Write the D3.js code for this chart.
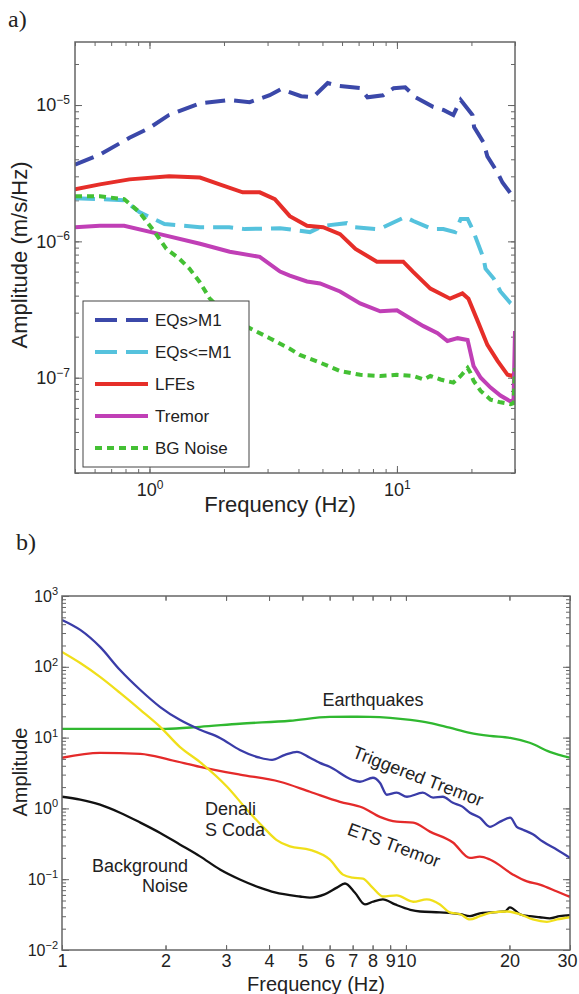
<!DOCTYPE html>
<meta charset="utf-8">
<style>
body { margin: 0; background: #fff; }
text { font-family: "Liberation Sans", Arial, sans-serif; fill: #222; }
.frame { fill: none; stroke: #666; stroke-width: 1.5px; }
.axis path { display: none; }
.axis line { stroke: #666; stroke-width: 1px; }
.tag { font-family: "Liberation Serif", "Times New Roman", serif; font-size: 24px; }
.line { fill: none; }
</style>
<body>
<script src="https://d3js.org/d3.v7.min.js"></script>
<script>

// ---- panel a: [frequency (Hz), amplitude (m/s/Hz)]
var eqsLarge = [[0.5,3.66e-6],[0.63,4.33e-6],[0.83,5.75e-6],[1.0,6.8e-6],[1.2,8.46e-6],[1.6,1.03e-5],
  [2.1,1.09e-5],[2.54,1.05e-5],[3.06,1.18e-5],[3.4,1.31e-5],[4.1,1.16e-5],[4.58,1.14e-5],[5.25,1.45e-5],
  [5.7,1.39e-5],[7.1,1.33e-5],[7.6,1.14e-5],[8.8,1.18e-5],[9.7,1.33e-5],[10.8,1.35e-5],[11.9,1.14e-5],
  [14.0,9.7e-6],[15.4,9.2e-6],[16.9,8.46e-6],[18.1,1.09e-5],[20.2,8.46e-6],[20.5,6.9e-6],[22.4,5.3e-6],
  [23.2,4.2e-6],[25.5,3.2e-6],[26.7,2.7e-6],[30,2.04e-6]];
var eqsSmall = [[0.5,2.07e-6],[0.63,2.04e-6],[0.79,2.0e-6],[0.91,1.64e-6],[1.15,1.34e-6],[1.6,1.27e-6],
  [2.1,1.27e-6],[2.43,1.23e-6],[3.37,1.25e-6],[4.45,1.17e-6],[5.03,1.3e-6],[6.27,1.36e-6],[6.75,1.27e-6],
  [8.3,1.23e-6],[8.8,1.27e-6],[10.8,1.51e-6],[11.65,1.41e-6],[13.9,1.23e-6],[15.4,1.23e-6],[17.2,1.17e-6],
  [18.1,1.46e-6],[19.3,1.46e-6],[20.2,1.23e-6],[22.4,7.5e-7],[22.8,6.3e-7],[24.6,5.34e-7],[26.2,4.29e-7],
  [28.8,3.51e-7],[30,3.34e-7]];
var lfes = [[0.5,2.41e-6],[0.63,2.62e-6],[0.83,2.85e-6],[1.2,3.0e-6],[1.6,2.94e-6],[1.92,2.62e-6],
  [2.38,2.29e-6],[2.79,2.29e-6],[3.21,2.04e-6],[3.69,1.53e-6],[4.33,1.3e-6],[5.03,1.27e-6],[5.89,1.13e-6],
  [6.8,8.8e-7],[8.3,7.1e-7],[10.6,7.1e-7],[11.6,6.0e-7],[13.65,4.5e-7],[16.4,3.8e-7],[18.4,4.15e-7],
  [19.45,3.8e-7],[21.2,2.6e-7],[23.2,1.74e-7],[25.5,1.33e-7],[28.0,1.05e-7],[29.3,1.03e-7],[30,1.1e-7]];
var tremorA = [[0.5,1.27e-6],[0.63,1.3e-6],[0.79,1.3e-6],[1.1,1.13e-6],[1.6,9.6e-7],[2.11,8.4e-7],
  [2.79,7.7e-7],[3.37,6.0e-7],[3.69,5.6e-7],[4.33,5.08e-7],[4.89,4.91e-7],[5.89,4.29e-7],[7.1,3.51e-7],
  [8.56,3.07e-7],[10.0,3.12e-7],[11.3,2.73e-7],[12.8,2.39e-7],[14.6,2.12e-7],[16.0,1.86e-7],[17.6,1.95e-7],
  [19.3,1.89e-7],[20.4,1.22e-7],[21.8,1.0e-7],[23.9,8.46e-8],[26.2,7.4e-8],[28.8,6.69e-8],[29.6,6.8e-8],
  [30,2.2e-7]];
var bgNoiseA = [[0.5,2.14e-6],[0.63,2.14e-6],[0.79,2.04e-6],[0.91,1.64e-6],[1.05,1.17e-6],[1.17,8.8e-7],
  [1.32,7.46e-7],[1.45,6.31e-7],[1.6,5.0e-7],[1.75,3.82e-7],[2.11,2.73e-7],[2.54,2.31e-7],[3.06,1.95e-7],
  [3.69,1.63e-7],[4.05,1.47e-7],[4.89,1.29e-7],[5.89,1.12e-7],[7.1,1.05e-7],[8.56,1.03e-7],[10.0,1.05e-7],
  [11.65,1.03e-7],[12.8,9.7e-8],[13.65,1.03e-7],[15.0,9.7e-8],[16.9,9.2e-8],[18.1,1.03e-7],[19.3,1.18e-7],
  [19.8,1.09e-7],[20.4,9.5e-8],[21.8,8.0e-8],[23.9,6.9e-8],[26.2,6.6e-8],[28.8,6.4e-8],[29.6,6.5e-8],
  [30,1.18e-7]];

var legendLabelsA = ["EQs>M1", "EQs<=M1", "LFEs", "Tremor", "BG Noise"];
var xTicksA = [1, 10];
var yTicksA = [1e-7, 1e-6, 1e-5];

// ---- panel b: [frequency (Hz), amplitude]
var earthquakes = [[1,13.3],[1.29,13.3],[2.0,13.3],[2.52,14.2],[3.29,15.7],[4.6,17.3],[6.0,19.6],
  [6.9,19.7],[7.86,19.6],[9.0,19.0],[10.3,17.8],[11.7,16.2],[13.4,13.8],[15.35,11.7],[17.55,10.6],
  [20.1,9.9],[22.9,8.45],[26.2,6.3],[30,5.2]];
var triggeredTremor = [[1,459],[1.13,332],[1.29,191],[1.475,90],[1.69,47],[1.93,27],[2.2,17.8],
  [2.52,12.9],[2.88,9.9],[3.29,6.7],[3.76,5.2],[4.08,4.86],[4.45,5.7],[4.82,6.3],[5.26,5.2],[5.62,4.4],
  [6.0,3.87],[6.97,2.54],[7.35,2.38],[8.02,2.71],[8.4,2.31],[8.8,1.56],[9.4,1.67],[10.07,1.46],
  [11.2,1.67],[12.0,1.42],[12.8,1.46],[13.7,1.2],[14.6,1.06],[15.35,0.87],[16.4,0.74],[17.55,0.55],
  [18.8,0.65],[20.1,0.74],[21.0,0.55],[21.9,0.5],[23.4,0.43],[25.0,0.34],[27.5,0.26],[30,0.2]];
var etsTremor = [[1,5.19],[1.29,6.1],[1.69,5.9],[2.06,4.86],[2.52,3.87],[3.29,3.0],[4.3,2.38],
  [5.26,1.72],[6.43,1.24],[7.5,1.02],[8.4,0.76],[9.4,0.65],[10.5,0.63],[11.74,0.47],[13.7,0.33],
  [15.35,0.2],[16.4,0.208],[17.55,0.19],[20.5,0.116],[22.5,0.093],[24.5,0.084],[27.5,0.067],[30,0.056]];
var denaliCoda = [[1,162],[1.13,113],[1.29,72],[1.475,42.8],[1.69,24.7],[1.93,14.2],[2.2,7.4],
  [2.52,4.5],[3.02,2.02],[3.45,0.96],[3.84,0.55],[4.2,0.36],[4.6,0.29],[5.26,0.26],[6.0,0.19],
  [6.56,0.116],[7.0,0.105],[7.5,0.102],[8.0,0.076],[8.57,0.057],[9.4,0.059],[10.5,0.048],[11.5,0.052],
  [12.56,0.044],[13.4,0.034],[14.4,0.032],[15.35,0.027],[16.4,0.03],[17.9,0.034],[19.7,0.035],
  [21.45,0.032],[23.4,0.027],[25.7,0.025],[27.5,0.027],[30,0.029]];
var backgroundNoise = [[1,1.46],[1.13,1.33],[1.29,1.13],[1.475,0.87],[1.69,0.63],[1.93,0.45],[2.2,0.31],
  [2.52,0.21],[2.88,0.137],[3.29,0.099],[3.76,0.076],[4.16,0.065],[4.92,0.057],[5.26,0.055],[5.8,0.061],
  [6.3,0.076],[6.65,0.087],[7.1,0.065],[7.6,0.044],[8.0,0.048],[8.57,0.052],[9.3,0.044],[10.3,0.037],
  [11.0,0.035],[12.56,0.034],[14.4,0.032],[15.35,0.03],[16.4,0.033],[17.55,0.034],[19.4,0.035],
  [20.06,0.04],[21.45,0.032],[22.9,0.03],[24.5,0.029],[26.2,0.028],[28.0,0.03],[30,0.031]];

var xTicksB = [1, 2, 3, 4, 5, 6, 7, 8, 9, 10, 20, 30];
var yTicksB = [1e-2, 1e-1, 1, 10, 100, 1000];

var svg = d3.select("body").append("svg")
    .attr("width", 579)
    .attr("height", 994);

// "10" with a raised exponent
function supLabel(sel, expSize, expDy) {
  sel.each(function(d) {
    var t = d3.select(this), e = Math.round(Math.log10(d));
    t.text(null);
    t.append("tspan").text("10");
    t.append("tspan").attr("dy", expDy).attr("font-size", expSize)
      .text(e < 0 ? "\u2212" + (-e) : e);
  });
}

// inward ticks on all four sides, MATLAB style
function boxTicks(g, x, y, minorX, minorY) {
  var x0 = x.range()[0], x1 = x.range()[1], y0 = y.range()[0], y1 = y.range()[1];
  g.append("g").attr("class", "axis").attr("transform", "translate(0," + y0 + ")")
    .call(d3.axisBottom(x).tickValues(minorX).tickSize(-4).tickFormat(""));
  g.append("g").attr("class", "axis").attr("transform", "translate(0," + y1 + ")")
    .call(d3.axisTop(x).tickValues(minorX).tickSize(-4).tickFormat(""));
  g.append("g").attr("class", "axis").attr("transform", "translate(" + x0 + ",0)")
    .call(d3.axisLeft(y).tickValues(minorY).tickSize(-4).tickFormat(""));
  g.append("g").attr("class", "axis").attr("transform", "translate(" + x1 + ",0)")
    .call(d3.axisRight(y).tickValues(minorY).tickSize(-4).tickFormat(""));
}

// ================= panel a =================
var xA = d3.scaleLog().domain([0.5, 30]).range([75, 515]);
var yA = d3.scaleLog().domain([2e-8, 2.9e-5]).range([473, 42]);

var gA = svg.append("g");

gA.append("text").attr("class", "tag").attr("x", 8).attr("y", 27).text("a)");

gA.append("clipPath").attr("id", "clipA").append("rect")
    .attr("x", 75).attr("y", 42).attr("width", 440).attr("height", 431);

boxTicks(gA, xA, yA, xA.ticks(), yA.ticks());

gA.append("g").attr("class", "axis").attr("transform", "translate(0,473)")
    .call(d3.axisBottom(xA).tickValues(xTicksA).tickSize(-7).tickPadding(10))
    .call(function(g) { g.selectAll("text").attr("font-size", 18).call(supLabel, 12, "-0.55em"); });
gA.append("g").attr("class", "axis").attr("transform", "translate(0,42)")
    .call(d3.axisTop(xA).tickValues(xTicksA).tickSize(-7).tickFormat(""));
gA.append("g").attr("class", "axis").attr("transform", "translate(75,0)")
    .call(d3.axisLeft(yA).tickValues(yTicksA).tickSize(-7).tickPadding(5))
    .call(function(g) { g.selectAll("text").attr("font-size", 18).call(supLabel, 12, "-0.6em"); });
gA.append("g").attr("class", "axis").attr("transform", "translate(515,0)")
    .call(d3.axisRight(yA).tickValues(yTicksA).tickSize(-7).tickFormat(""));

var lineA = d3.line()
    .x(function(d) { return xA(d[0]); })
    .y(function(d) { return yA(d[1]); });

var seriesA = [
  {data: eqsLarge, color: "#3b48a9", dash: "20,9"},
  {data: eqsSmall, color: "#55c2dd", dash: "20,9"},
  {data: lfes,     color: "#e62e29", dash: null},
  {data: tremorA,  color: "#c03fb6", dash: null},
  {data: bgNoiseA, color: "#44c034", dash: "7,5"}
];

gA.append("g").attr("clip-path", "url(#clipA)")
  .selectAll("path").data(seriesA).enter().append("path")
    .attr("class", "line")
    .attr("d", function(d) { return lineA(d.data); })
    .attr("stroke", function(d) { return d.color; })
    .attr("stroke-width", 4)
    .attr("stroke-dasharray", function(d) { return d.dash; });

gA.append("rect").attr("class", "frame")
    .attr("x", 75).attr("y", 42).attr("width", 440).attr("height", 431);

// legend
var leg = gA.append("g");
leg.append("rect").attr("x", 83).attr("y", 301).attr("width", 166).attr("height", 166)
    .attr("fill", "#fff").attr("stroke", "#444").attr("stroke-width", 1);
var item = leg.selectAll(".item").data(seriesA).enter().append("g")
    .attr("transform", function(d, i) { return "translate(0," + (320 + i * 32) + ")"; });
item.append("line").attr("x1", 95).attr("x2", 148)
    .attr("stroke", function(d) { return d.color; })
    .attr("stroke-width", 4)
    .attr("stroke-dasharray", function(d) { return d.dash === "20,9" ? "22,9" : d.dash; });
item.append("text").attr("x", 155).attr("dy", "0.36em").attr("font-size", 17)
    .text(function(d, i) { return legendLabelsA[i]; });

gA.append("text").attr("x", 280).attr("y", 512).attr("text-anchor", "middle")
    .attr("font-size", 22).text("Frequency (Hz)");
gA.append("text").attr("transform", "translate(27,255) rotate(-90)")
    .attr("text-anchor", "middle").attr("font-size", 22).text("Amplitude (m/s/Hz)");

// ================= panel b =================
var xB = d3.scaleLog().domain([1, 30]).range([62, 570]);
var yB = d3.scaleLog().domain([0.01, 1000]).range([950, 596]);

var gB = svg.append("g");

gB.append("text").attr("class", "tag").attr("x", 16).attr("y", 550).text("b)");

gB.append("clipPath").attr("id", "clipB").append("rect")
    .attr("x", 62).attr("y", 596).attr("width", 508).attr("height", 354);

boxTicks(gB, xB, yB, xB.ticks(), yB.ticks());

gB.append("g").attr("class", "axis").attr("transform", "translate(0,950)")
    .call(d3.axisBottom(xB).tickValues(xTicksB).tickSize(-5).tickPadding(4).tickFormat(d3.format("d")))
    .call(function(g) {
      g.selectAll("text").attr("font-size", 18);
      // last label sits at the window edge
      g.selectAll("text").filter(function(d) { return d === 30; }).attr("dx", -3);
    });
gB.append("g").attr("class", "axis").attr("transform", "translate(0,596)")
    .call(d3.axisTop(xB).tickValues(xTicksB).tickSize(-5).tickFormat(""));
gB.append("g").attr("class", "axis").attr("transform", "translate(62,0)")
    .call(d3.axisLeft(yB).tickValues(yTicksB).tickSize(-7).tickPadding(4))
    .call(function(g) { g.selectAll("text").attr("font-size", 16).call(supLabel, 11, "-0.6em"); });
gB.append("g").attr("class", "axis").attr("transform", "translate(570,0)")
    .call(d3.axisRight(yB).tickValues(yTicksB).tickSize(-7).tickFormat(""));

var lineB = d3.line()
    .curve(d3.curveMonotoneX)
    .x(function(d) { return xB(d[0]); })
    .y(function(d) { return yB(d[1]); });

var seriesB = [
  {data: earthquakes,     color: "#30b830"},
  {data: triggeredTremor, color: "#3a3ca8"},
  {data: etsTremor,       color: "#e42a2a"},
  {data: backgroundNoise, color: "#111111"},
  {data: denaliCoda,      color: "#f0df1a"}
];

gB.append("g").attr("clip-path", "url(#clipB)")
  .selectAll("path").data(seriesB).enter().append("path")
    .attr("class", "line")
    .attr("d", function(d) { return lineB(d.data); })
    .attr("stroke", function(d) { return d.color; })
    .attr("stroke-width", 2.3);

gB.append("rect").attr("class", "frame")
    .attr("x", 62).attr("y", 596).attr("width", 508).attr("height", 354);

// curve labels
gB.append("text").attr("x", 373).attr("y", 706).attr("text-anchor", "middle")
    .attr("font-size", 18).text("Earthquakes");
gB.append("text").attr("transform", "translate(418,776) rotate(21)")
    .attr("text-anchor", "middle").attr("dy", "0.35em").attr("font-size", 18).text("Triggered Tremor");
gB.append("text").attr("transform", "translate(394,845) rotate(20)")
    .attr("text-anchor", "middle").attr("dy", "0.35em").attr("font-size", 18).text("ETS Tremor");
gB.append("text").attr("x", 205).attr("y", 815).attr("font-size", 18).text("Denali");
gB.append("text").attr("x", 205).attr("y", 836).attr("font-size", 18).text("S Coda");
gB.append("text").attr("x", 188).attr("y", 872).attr("text-anchor", "end").attr("font-size", 18).text("Background");
gB.append("text").attr("x", 188).attr("y", 892).attr("text-anchor", "end").attr("font-size", 18).text("Noise");

gB.append("text").attr("x", 316).attr("y", 991).attr("text-anchor", "middle")
    .attr("font-size", 20).text("Frequency (Hz)");
gB.append("text").attr("transform", "translate(27,772) rotate(-90)")
    .attr("text-anchor", "middle").attr("font-size", 20).text("Amplitude");

</script>
</body>
